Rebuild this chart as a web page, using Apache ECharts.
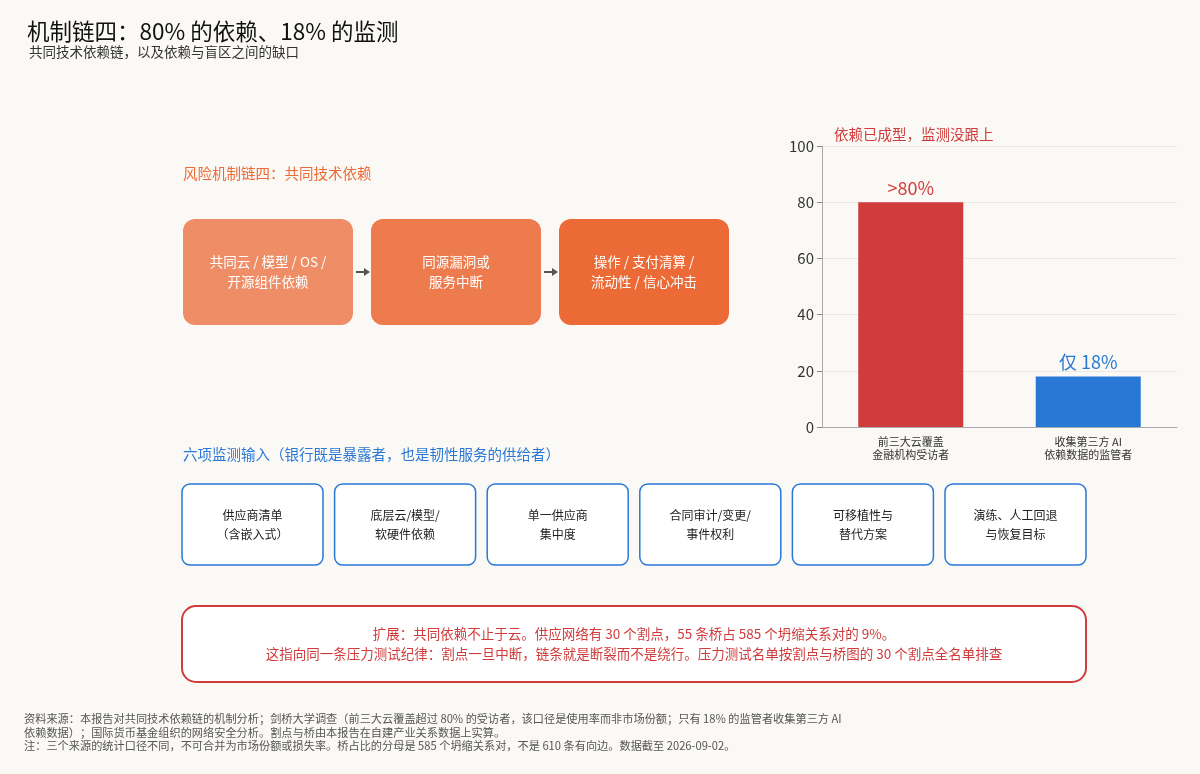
<!DOCTYPE html>
<html>
<head>
<meta charset="utf-8" />
<script src="https://cdn.jsdelivr.net/npm/echarts@6/dist/echarts.min.js"></script>
<style>body{margin:0;background:#fbf9f5}</style>
</head>
<body>
<div id="main" style="width:1200px;height:774px;"></div>
<script type="text/javascript">
var categories = ['前三大云覆盖\n金融机构受访者', '收集第三方 AI\n依赖数据的监管者'];
var values = [80, 18];
var barLabels = ['>80%', '仅 18%'];
var barColors = ['#d03c3c', '#2a78d6'];
var flowSteps = ['共同云 / 模型 / OS /\n开源组件依赖', '同源漏洞或\n服务中断', '操作 / 支付清算 /\n流动性 / 信心冲击'];
var flowColors = ['#ef8d66', '#ee7b4d', '#ec6a35'];
var monitorItems = ['供应商清单\n（含嵌入式）', '底层云/模型/\n软硬件依赖', '单一供应商\n集中度', '合同审计/变更/\n事件权利', '可移植性与\n替代方案', '演练、人工回退\n与恢复目标'];

var font = '"Noto Sans CJK SC", "Noto Sans", sans-serif';
var myChart = echarts.init(document.getElementById('main'));

var g = [];
// 风险链
g.push({type: 'text', left: 183, top: 166, style: {text: '风险机制链四：共同技术依赖', fill: '#ec6a35', font: '14.5px ' + font}});
for (var i = 0; i < flowSteps.length; i++) {
    var x = 183 + i * 188;
    g.push({type: 'rect', shape: {x: x, y: 219, width: 170, height: 106, r: 12}, style: {fill: flowColors[i]}});
    g.push({type: 'text', x: x + 85, y: 272, style: {text: flowSteps[i], fill: '#fff', font: '13.5px ' + font, align: 'center', verticalAlign: 'middle', lineHeight: 20}});
    if (i < flowSteps.length - 1) {
        g.push({type: 'line', shape: {x1: x + 173, y1: 272, x2: x + 183, y2: 272}, style: {stroke: '#555', lineWidth: 2}});
        g.push({type: 'polygon', shape: {points: [[x + 181, 268], [x + 187, 272], [x + 181, 276]]}, style: {fill: '#555'}});
    }
}
// 六项监测输入
g.push({type: 'text', left: 183, top: 447, style: {text: '六项监测输入（银行既是暴露者，也是韧性服务的供给者）', fill: '#2a78d6', font: '14.5px ' + font}});
for (var j = 0; j < monitorItems.length; j++) {
    var mx = 182 + j * 152.6;
    g.push({type: 'rect', shape: {x: mx, y: 484, width: 141, height: 81, r: 8}, style: {fill: '#fff', stroke: '#2a78d6', lineWidth: 1.5}});
    g.push({type: 'text', x: mx + 70.5, y: 525, style: {text: monitorItems[j], fill: '#222', font: '12px ' + font, align: 'center', verticalAlign: 'middle', lineHeight: 19}});
}
// 扩展框
g.push({type: 'rect', shape: {x: 182, y: 606, width: 904, height: 76, r: 14}, style: {fill: '#fff', stroke: '#d03c3c', lineWidth: 2}});
g.push({type: 'text', x: 634, y: 644, style: {text: '扩展：共同依赖不止于云。供应网络有 30 个割点，55 条桥占 585 个坍缩关系对的 9%。\n这指向同一条压力测试纪律：割点一旦中断，链条就是断裂而不是绕行。压力测试名单按割点与桥图的 30 个割点全名单排查', fill: '#d03c3c', font: '13.5px ' + font, align: 'center', verticalAlign: 'middle', lineHeight: 20}});
// 脚注
g.push({type: 'text', left: 24, top: 712, style: {text: '资料来源：本报告对共同技术依赖链的机制分析；剑桥大学调查（前三大云覆盖超过 80% 的受访者，该口径是使用率而非市场份额；只有 18% 的监管者收集第三方 AI\n依赖数据）；国际货币基金组织的网络安全分析。割点与桥由本报告在自建产业关系数据上实算。\n注：三个来源的统计口径不同，不可合并为市场份额或损失率。桥占比的分母是 585 个坍缩关系对，不是 610 条有向边。数据截至 2026-09-02。', fill: '#555', font: '11.2px ' + font, lineHeight: 13.5}});

var option = {
    backgroundColor: '#fbf9f5',
    title: [
        {text: '机制链四：80% 的依赖、18% 的监测', left: 22, top: 15, textStyle: {fontFamily: font, fontSize: 22.5, fontWeight: 'normal', color: '#111'}},
        {text: '共同技术依赖链，以及依赖与盲区之间的缺口', left: 24, top: 40, textStyle: {fontFamily: font, fontSize: 13.5, fontWeight: 'normal', color: '#333'}},
        {text: '依赖已成型，监测没跟上', left: 829, top: 122, textStyle: {fontFamily: font, fontSize: 14.5, fontWeight: 'normal', color: '#d03c3c'}}
    ],
    grid: {left: 822, top: 146, width: 355, height: 281},
    xAxis: {
        type: 'category', data: categories,
        axisLine: {lineStyle: {color: '#aaa'}},
        axisTick: {alignWithLabel: true, lineStyle: {color: '#888'}},
        axisLabel: {fontFamily: font, fontSize: 11, color: '#333', lineHeight: 13}
    },
    yAxis: {
        type: 'value', min: 0, max: 100, interval: 20,
        axisLine: {show: true, lineStyle: {color: '#aaa'}},
        axisTick: {show: true, lineStyle: {color: '#888'}},
        axisLabel: {fontFamily: font, fontSize: 15, color: '#333'},
        splitLine: {lineStyle: {color: '#ebe9e5'}}
    },
    series: [{
        type: 'bar', barWidth: 105,
        data: values.map(function (v, k) {
            return {value: v, itemStyle: {color: barColors[k]},
                label: {show: true, position: 'top', formatter: barLabels[k], color: barColors[k], fontSize: 18, fontFamily: font}};
        })
    }],
    graphic: g
};
myChart.setOption(option);
</script>
</body>
</html>
